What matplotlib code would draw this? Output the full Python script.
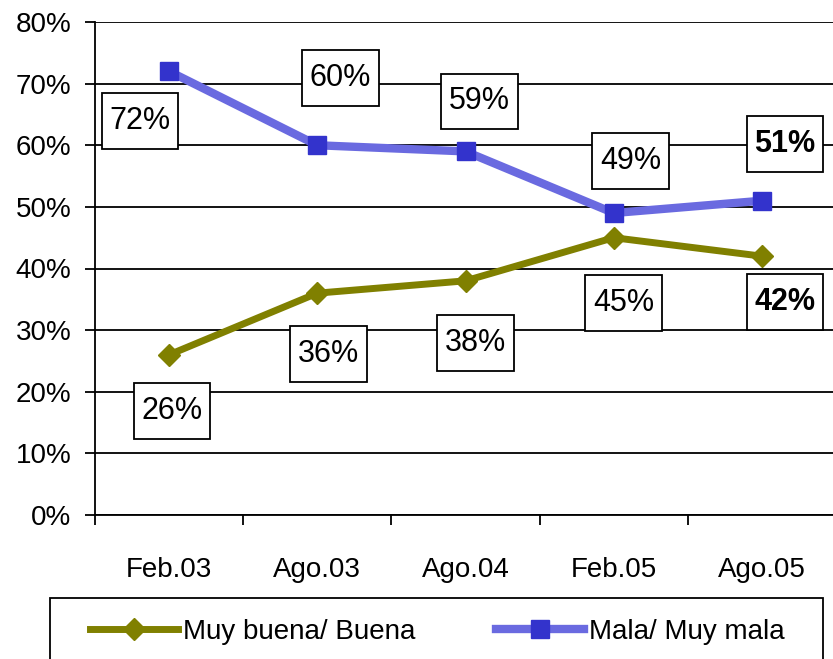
import matplotlib
import matplotlib.pyplot as plt
import numpy as np
from matplotlib.ticker import FuncFormatter
from matplotlib.path import Path
from matplotlib.patches import Rectangle

# data
periods = ["Feb.03", "Ago.03", "Ago.04", "Feb.05", "Ago.05"]
buena = [26, 36, 38, 45, 42]
mala = [72, 60, 59, 49, 51]

# label offsets in pixels (dx, dy), y up
buena_off = [(3, -56), (11, -61), (10, -62), (10, -65), (23, -46)]
mala_off = [(-29, -50), (23, 67), (14, 50), (17, 52), (23, 57)]

plt.rcParams["font.family"] = "Liberation Sans"
plt.rcParams["font.size"] = 20


def label_box(x0, y0, width, height, mutation_size):
    # wider vertical padding than horizontal, like the excel boxes
    px_, py_ = 0.25 * mutation_size, 0.42 * mutation_size
    x0, y0 = x0 - px_, y0 - py_
    x1, y1 = x0 + width + 2 * px_, y0 + height + 2 * py_
    return Path([(x0, y0), (x1, y0), (x1, y1), (x0, y1), (x0, y0)],
                [Path.MOVETO, Path.LINETO, Path.LINETO, Path.LINETO, Path.CLOSEPOLY])


fig = plt.figure(figsize=(8.33, 6.59), dpi=100)
ax = fig.add_axes([95 / 833, 1 - 515 / 659, 741 / 833, 493 / 659])

x = np.arange(len(periods))
px = 72 / 100  # pixels -> points

ax.plot(x, mala, color="#6a6ae0", linewidth=6, marker="s", markersize=13,
        markerfacecolor="#3333cc", markeredgecolor="#3333cc", label="Mala/ Muy mala", zorder=4)
ax.plot(x, buena, color="#808000", linewidth=5, marker="D", markersize=11,
        markerfacecolor="#808000", markeredgecolor="#808000", label="Muy buena/ Buena", zorder=4)

box = dict(boxstyle=label_box, facecolor="white", edgecolor="black", linewidth=1.3)
for i, v in enumerate(buena):
    dx, dy = buena_off[i]
    ax.annotate("%d%%" % v, (x[i], v), xytext=(dx * px, dy * px), textcoords="offset points",
                ha="center", va="center", fontsize=22, bbox=box, zorder=5,
                fontweight="bold" if i == len(buena) - 1 else "normal")
for i, v in enumerate(mala):
    dx, dy = mala_off[i]
    ax.annotate("%d%%" % v, (x[i], v), xytext=(dx * px, dy * px), textcoords="offset points",
                ha="center", va="center", fontsize=22, bbox=box, zorder=5,
                fontweight="bold" if i == len(mala) - 1 else "normal")

ax.set_xlim(-0.5, len(periods) - 0.5)
ax.set_ylim(0, 80)
ax.set_yticks(np.arange(0, 81, 10))
ax.yaxis.set_major_formatter(FuncFormatter(lambda v, p: "%d%%" % v))
ax.set_xticks(np.arange(-0.5, len(periods), 1.0))
ax.set_xticklabels([])
ax.set_xticks(x, minor=True)
ax.set_xticklabels(periods, minor=True)
ax.tick_params(axis="x", which="major", length=7, width=1.3, direction="out")
ax.tick_params(axis="x", which="minor", length=0, pad=30)
ax.tick_params(axis="y", length=7, width=1.3, direction="out", pad=10)

ax.yaxis.grid(True, color="black", linewidth=1.3)
ax.set_axisbelow(True)
for s in ["top", "right"]:
    ax.spines[s].set_visible(False)
for s in ["left", "bottom"]:
    ax.spines[s].set_linewidth(1.3)

# legend frame drawn by hand, it runs off the bottom of the picture
fig.patches.append(Rectangle((50 / 833, -0.05), 773 / 833, 0.05 + 61 / 659,
                             transform=fig.transFigure, facecolor="none",
                             edgecolor="black", linewidth=1.3))
h, l = ax.get_legend_handles_labels()
leg = fig.legend(h[::-1], l[::-1], loc="center left",
                 bbox_to_anchor=(90 / 833, 1 - 632 / 659),
                 ncol=2, handlelength=3.17, handletextpad=0.18, columnspacing=2.9,
                 borderpad=0, borderaxespad=0, frameon=False, fontsize=20)

fig.savefig("out.png", dpi=100)
